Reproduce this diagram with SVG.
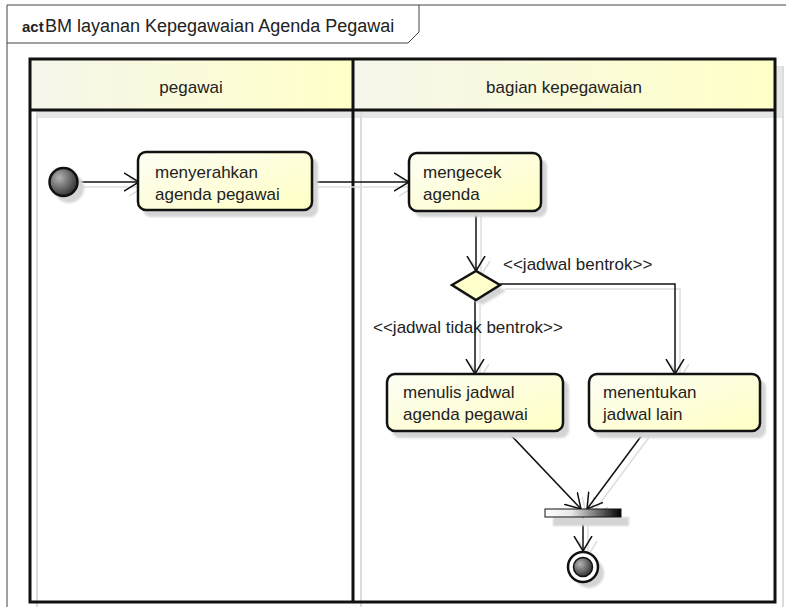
<svg xmlns="http://www.w3.org/2000/svg" width="786" height="607" viewBox="0 0 786 607">
  <defs>
    <style>
      .t { font-family: "Liberation Sans", Arial, sans-serif; font-size: 17px; fill: #222; }
      .kw { font-weight: bold; font-size: 15px; }
      .ttl { font-size: 18px; }
      .lane { fill: none; stroke: #111; stroke-width: 3; }
      .lsh { fill: none; stroke: #dcdcdc; stroke-width: 2; }
      .act { fill: url(#gAct); stroke: #111; stroke-width: 2.5; }
      .sh { fill: #d4d4d4; stroke: none; filter: url(#soft); }
      .ln { fill: none; stroke: #111; stroke-width: 1.5; marker-end: url(#arr); }
      .lnS { fill: none; stroke: #dedede; stroke-width: 1.5; marker-end: url(#arrS); }
    </style>
    <linearGradient id="gHead" x1="0" y1="0" x2="1" y2="0">
      <stop offset="0" stop-color="#f6f6ec"/>
      <stop offset="1" stop-color="#ffffc8"/>
    </linearGradient>
    <linearGradient id="gAct" x1="0" y1="0" x2="1" y2="1">
      <stop offset="0" stop-color="#fdfdf4"/>
      <stop offset="1" stop-color="#ffffc4"/>
    </linearGradient>
    <linearGradient id="gBar" x1="0" y1="0" x2="1" y2="0">
      <stop offset="0" stop-color="#ffffff"/>
      <stop offset="0.35" stop-color="#e8e8e8"/>
      <stop offset="1" stop-color="#000000"/>
    </linearGradient>
    <radialGradient id="gBall" cx="0.35" cy="0.35" r="0.75">
      <stop offset="0" stop-color="#b4b4b4"/>
      <stop offset="1" stop-color="#262626"/>
    </radialGradient>
    <filter id="soft" x="-10%" y="-10%" width="120%" height="120%">
      <feGaussianBlur stdDeviation="0.8"/>
    </filter>
    <marker id="arr" viewBox="0 0 16 20" refX="15" refY="10" markerWidth="16" markerHeight="20" markerUnits="userSpaceOnUse" orient="auto">
      <path d="M0,1 L15,10 L0,19" fill="none" stroke="#111" stroke-width="1.5"/>
    </marker>
    <marker id="arrS" viewBox="0 0 16 20" refX="15" refY="10" markerWidth="16" markerHeight="20" markerUnits="userSpaceOnUse" orient="auto">
      <path d="M0,1 L15,10 L0,19" fill="none" stroke="#dedede" stroke-width="1.5"/>
    </marker>
  </defs>

  <rect width="786" height="607" fill="#ffffff"/>

  <!-- diagram frame with name tab -->
  <g id="frame">
    <path d="M7,607 V5 H786" fill="none" stroke="#444" stroke-width="1"/>
    <path d="M7,43 H408 L419,32 V5" fill="none" stroke="#444" stroke-width="1"/>
    <text class="t kw" x="22" y="32">act</text>
    <text class="t ttl" x="45" y="32">BM layanan Kepegawaian Agenda Pegawai</text>
  </g>

  <!-- swimlanes -->
  <g id="lanes">
    <rect x="37" y="111" width="746" height="7" fill="#e6e6e6"/>
    <rect x="776" y="66" width="7" height="52" fill="#e6e6e6"/>
    <path class="lsh" d="M37,66 V607 M361,66 V607 M783,66 V607"/>
    <rect x="30" y="59" width="323" height="51" fill="url(#gHead)"/>
    <rect x="353" y="59" width="422" height="51" fill="url(#gHead)"/>
    <rect class="lane" x="30" y="59" width="745" height="543"/>
    <path class="lane" d="M30,110 H775 M353,59 V602"/>
    <text class="t" x="191" y="93" text-anchor="middle">pegawai</text>
    <text class="t" x="564" y="93" text-anchor="middle">bagian kepegawaian</text>
  </g>

  <!-- control flows -->
  <g id="connectors">
    <g id="flow-shadows">
      <path class="lnS" d="M82,187 H144"/>
      <path class="lnS" d="M317,187 H414"/>
      <path class="lnS" d="M481,216 V276"/>
      <path class="lnS" d="M505,289 H680 V379"/>
      <path class="lnS" d="M480,305 V379"/>
      <path class="lnS" d="M512,436 L586,514"/>
      <path class="lnS" d="M650,436 L592,514"/>
      <path class="lnS" d="M588,522 V556"/>
    </g>
    <path class="ln" d="M77,182 H139"/>
    <path class="ln" d="M312,182 H409"/>
    <path class="ln" d="M476,211 V271"/>
    <path class="ln" d="M500,284 H675 V374"/>
    <path class="ln" d="M475,300 V374"/>
    <path class="ln" d="M507,431 L581,509"/>
    <path class="ln" d="M645,431 L587,509"/>
    <path class="ln" d="M583,517 V551"/>
    <text class="t" x="503" y="270">&lt;&lt;jadwal bentrok&gt;&gt;</text>
    <text class="t" x="373" y="333">&lt;&lt;jadwal tidak bentrok&gt;&gt;</text>
  </g>

  <g id="initial">
    <circle class="sh" cx="69" cy="188" r="15"/>
    <circle cx="63.5" cy="182" r="14" fill="url(#gBall)" stroke="#111" stroke-width="2.5"/>
  </g>

  <g id="menyerahkan-agenda">
    <rect class="sh" x="143" y="158" width="175" height="59" rx="8"/>
    <rect class="act" x="138" y="152" width="174" height="58" rx="8"/>
    <text class="t" x="155" y="178">menyerahkan</text>
    <text class="t" x="155" y="200">agenda pegawai</text>
  </g>

  <g id="mengecek-agenda">
    <rect class="sh" x="414" y="159" width="133" height="58" rx="8"/>
    <rect class="act" x="409" y="153" width="132" height="58" rx="8"/>
    <text class="t" x="423" y="178">mengecek</text>
    <text class="t" x="423" y="200">agenda</text>
  </g>

  <g id="decision">
    <path class="sh" d="M458,291 L482,277 L506,291 L482,305 Z"/>
    <path d="M452,285 L476,271 L500,285 L476,300 Z" fill="#ffffcc" stroke="#111" stroke-width="2.5"/>
  </g>

  <g id="menulis-jadwal">
    <rect class="sh" x="392" y="380" width="177" height="58" rx="8"/>
    <rect class="act" x="387" y="374" width="176" height="57" rx="8"/>
    <text class="t" x="403" y="398">menulis jadwal</text>
    <text class="t" x="403" y="420">agenda pegawai</text>
  </g>

  <g id="menentukan-jadwal">
    <rect class="sh" x="594" y="380" width="172" height="58" rx="8"/>
    <rect class="act" x="589" y="374" width="171" height="57" rx="8"/>
    <text class="t" x="603" y="398">menentukan</text>
    <text class="t" x="603" y="420">jadwal lain</text>
  </g>

  <g id="join">
    <rect class="sh" x="553" y="517" width="76" height="9"/>
    <rect x="545" y="509" width="76" height="8" fill="url(#gBar)" stroke="#111" stroke-width="1"/>
  </g>

  <g id="final">
    <circle class="sh" cx="589" cy="573" r="15"/>
    <circle cx="583" cy="567" r="15" fill="#ffffff" stroke="#111" stroke-width="2.5"/>
    <circle cx="583" cy="567" r="9.5" fill="url(#gBall)" stroke="#111" stroke-width="1.5"/>
  </g>
</svg>
